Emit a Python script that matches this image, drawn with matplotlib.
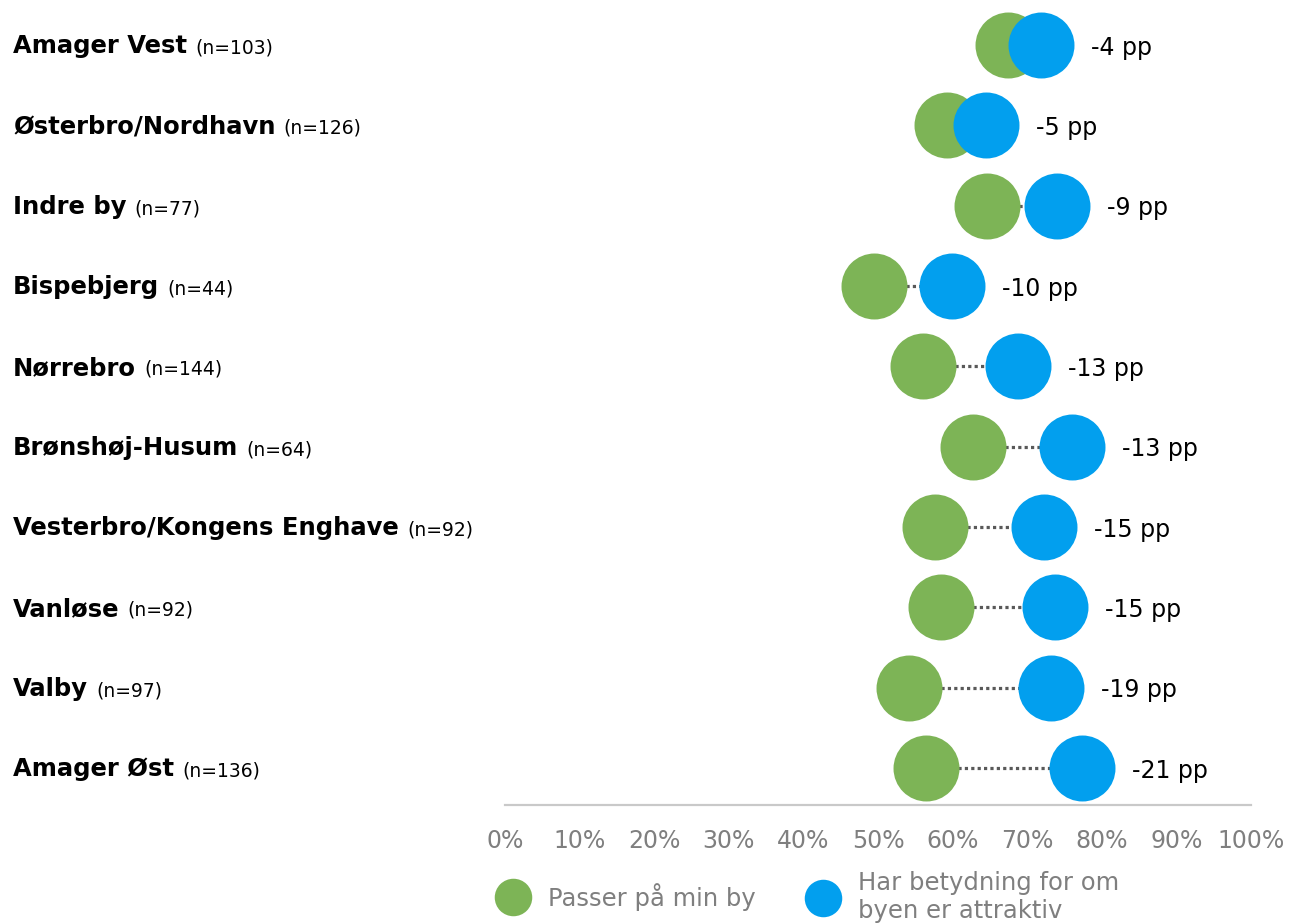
import numpy as np
import matplotlib.pyplot as plt
from matplotlib.lines import Line2D

plt.rcParams['font.family'] = ['DejaVu Sans']

# districts, top to bottom
districts = ["Amager Vest", "Østerbro/Nordhavn", "Indre by", "Bispebjerg", "Nørrebro",
             "Brønshøj-Husum", "Vesterbro/Kongens Enghave", "Vanløse", "Valby", "Amager Øst"]
n_resp = [103, 126, 77, 44, 144, 64, 92, 92, 97, 136]
passer = [67.4, 59.2, 64.6, 49.4, 56.0, 62.7, 57.7, 58.4, 54.1, 56.4]
betydning = [71.8, 64.5, 74.0, 59.9, 68.7, 76.0, 72.2, 73.7, 73.2, 77.4]
diff_labels = ["-4 pp", "-5 pp", "-9 pp", "-10 pp", "-13 pp", "-13 pp", "-15 pp", "-15 pp", "-19 pp", "-21 pp"]
xticks = [0, 10, 20, 30, 40, 50, 60, 70, 80, 90, 100]

green = "#7db456"
blue = "#029fee"
grey_txt = "#7f7f7f"

W, H = 1289, 924
fig = plt.figure(figsize=(W / 100, H / 100), dpi=100)
ax = fig.add_axes([505 / W, (H - 805) / H, (1251 - 505) / W, 800 / H])

y = np.arange(len(districts))
for i in range(len(districts)):
    ax.plot([passer[i], betydning[i]], [y[i], y[i]], ls=(0, (1, 1)), color="#595959", lw=2.3, zorder=1)
ax.plot(passer, y, "o", ms=47.5, color=green, mec="none", zorder=2)
ax.plot(betydning, y, "o", ms=47.5, color=blue, mec="none", zorder=3)

for i in range(len(districts)):
    ax.annotate(diff_labels[i], xy=(betydning[i], y[i]), xytext=(36, 0), textcoords="offset points",
                ha="left", va="center_baseline", fontsize=17, color="black")
    t = ax.annotate(districts[i], xy=(13 / W, y[i]), xycoords=("figure fraction", "data"),
                    xytext=(0, -6), textcoords="offset points", ha="left", va="baseline",
                    fontsize=17.5, fontweight="bold", annotation_clip=False)
    ax.annotate("(n={})".format(n_resp[i]), xy=(1, y[i]), xycoords=(t, "data"),
                xytext=(6, -6), textcoords="offset points", ha="left", va="baseline",
                fontsize=13.5, annotation_clip=False)

ax.set_xlim(0, 100)
ax.set_ylim(9.46, -0.5)
ax.set_xticks(xticks)
ax.set_xticklabels(["{}%".format(v) for v in xticks])
ax.set_yticks([])
ax.tick_params(axis="x", length=0, pad=17, labelsize=17, labelcolor=grey_txt)
for s in ["top", "left", "right"]:
    ax.spines[s].set_visible(False)
ax.spines["bottom"].set_color("#c9c9c9")
ax.spines["bottom"].set_linewidth(1.6)

h1 = Line2D([], [], marker="o", ls="", ms=27, color=green, mec="none")
h2 = Line2D([], [], marker="o", ls="", ms=27, color=blue, mec="none")
for h, lab, x0 in [(h1, "Passer på min by", 495), (h2, "Har betydning for om\nbyen er attraktiv", 805)]:
    fig.legend([h], [lab], loc="center left", bbox_to_anchor=(x0 / W, 1 - 897 / H),
               frameon=False, fontsize=17.5, labelcolor=grey_txt, handlelength=1.5,
               handletextpad=0.7, borderpad=0, borderaxespad=0, labelspacing=0)

fig.savefig("out.png", dpi=100)
